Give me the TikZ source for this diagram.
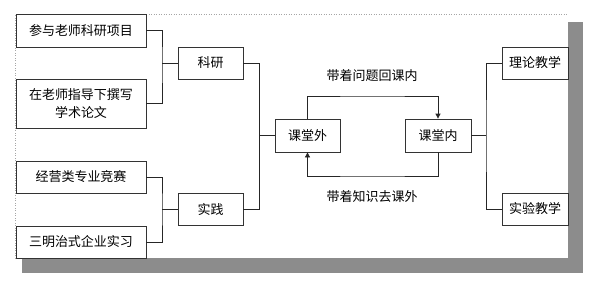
\documentclass[tikz,border=0pt]{standalone}
\usepackage{fontspec}
\newfontfamily\cjk{Noto Sans CJK SC}
\usetikzlibrary{arrows.meta}
\begin{document}
\begin{tikzpicture}[x=1pt,y=-1pt,
  box/.style={draw=black!80,line width=0.8pt,fill=white,inner sep=1pt,align=center,
    font=\cjk\fontsize{13}{18}\selectfont},
  lab/.style={font=\cjk\fontsize{13}{18}\selectfont},
  con/.style={draw=black!85,line width=0.8pt},
  arr/.style={con,-{Triangle[width=5pt,length=5pt]}}]
\useasboundingbox (0,0) rectangle (603,292);
% shadow frame
\fill[black!45] (568,22) rectangle (583,273);
\fill[black!45] (22,258) rectangle (583,273);
\fill[white] (15,14) rectangle (568,258);
\draw[black!35,dotted,line width=0.5pt] (15,258) -- (15,14) -- (568,14);
% boxes
\node[box,minimum width=130,minimum height=33] (b1) at (81,30.5) {参与老师科研项目};
\node[box,minimum width=130,minimum height=49] (b2) at (81,103.5) {在老师指导下撰写\\学术论文};
\node[box,minimum width=130,minimum height=32] (b3) at (81,177) {经营类专业竞赛};
\node[box,minimum width=130,minimum height=32] (b4) at (81,242) {三明治式企业实习};
\node[box,minimum width=65,minimum height=32] (ky) at (210.5,63) {科研};
\node[box,minimum width=65,minimum height=32] (sj) at (210.5,209) {实践};
\node[box,minimum width=65,minimum height=33] (kw) at (307.5,135.5) {课堂外};
\node[box,minimum width=66,minimum height=33] (kn) at (438,135.5) {课堂内};
\node[box,minimum width=66,minimum height=32] (ll) at (535,63) {理论教学};
\node[box,minimum width=66,minimum height=32] (sy) at (535,209) {实验教学};
% junctions
\coordinate (j1) at (162,63);
\coordinate (j2) at (162,209);
\coordinate (j3) at (259,135.5);
\coordinate (j4) at (486,135.5);
\coordinate (tp) at (372,96);
\coordinate (bt) at (372,176);
% connectors
\draw[con] (b1.east) -| (j1) |- (b2.east);
\draw[con] (j1) -- (ky.west);
\draw[con] (b3.east) -| (j2) |- (b4.east);
\draw[con] (j2) -- (sj.west);
\draw[con] (ky.east) -| (j3) -- (kw.west);
\draw[con] (sj.east) -| (j3);
\draw[con] (kn.east) -- (j4);
\draw[con] (ll.west) -| (j4) |- (sy.west);
\draw[arr] (kw.north) |- (tp) -| (kn.north);
\draw[arr] (kn.south) |- (bt) -| (kw.south);
% labels
\node[lab] (l1) at (372,76) {带着问题回课内};
\node[lab] (l2) at (372,197) {带着知识去课外};
\end{tikzpicture}
\end{document}
